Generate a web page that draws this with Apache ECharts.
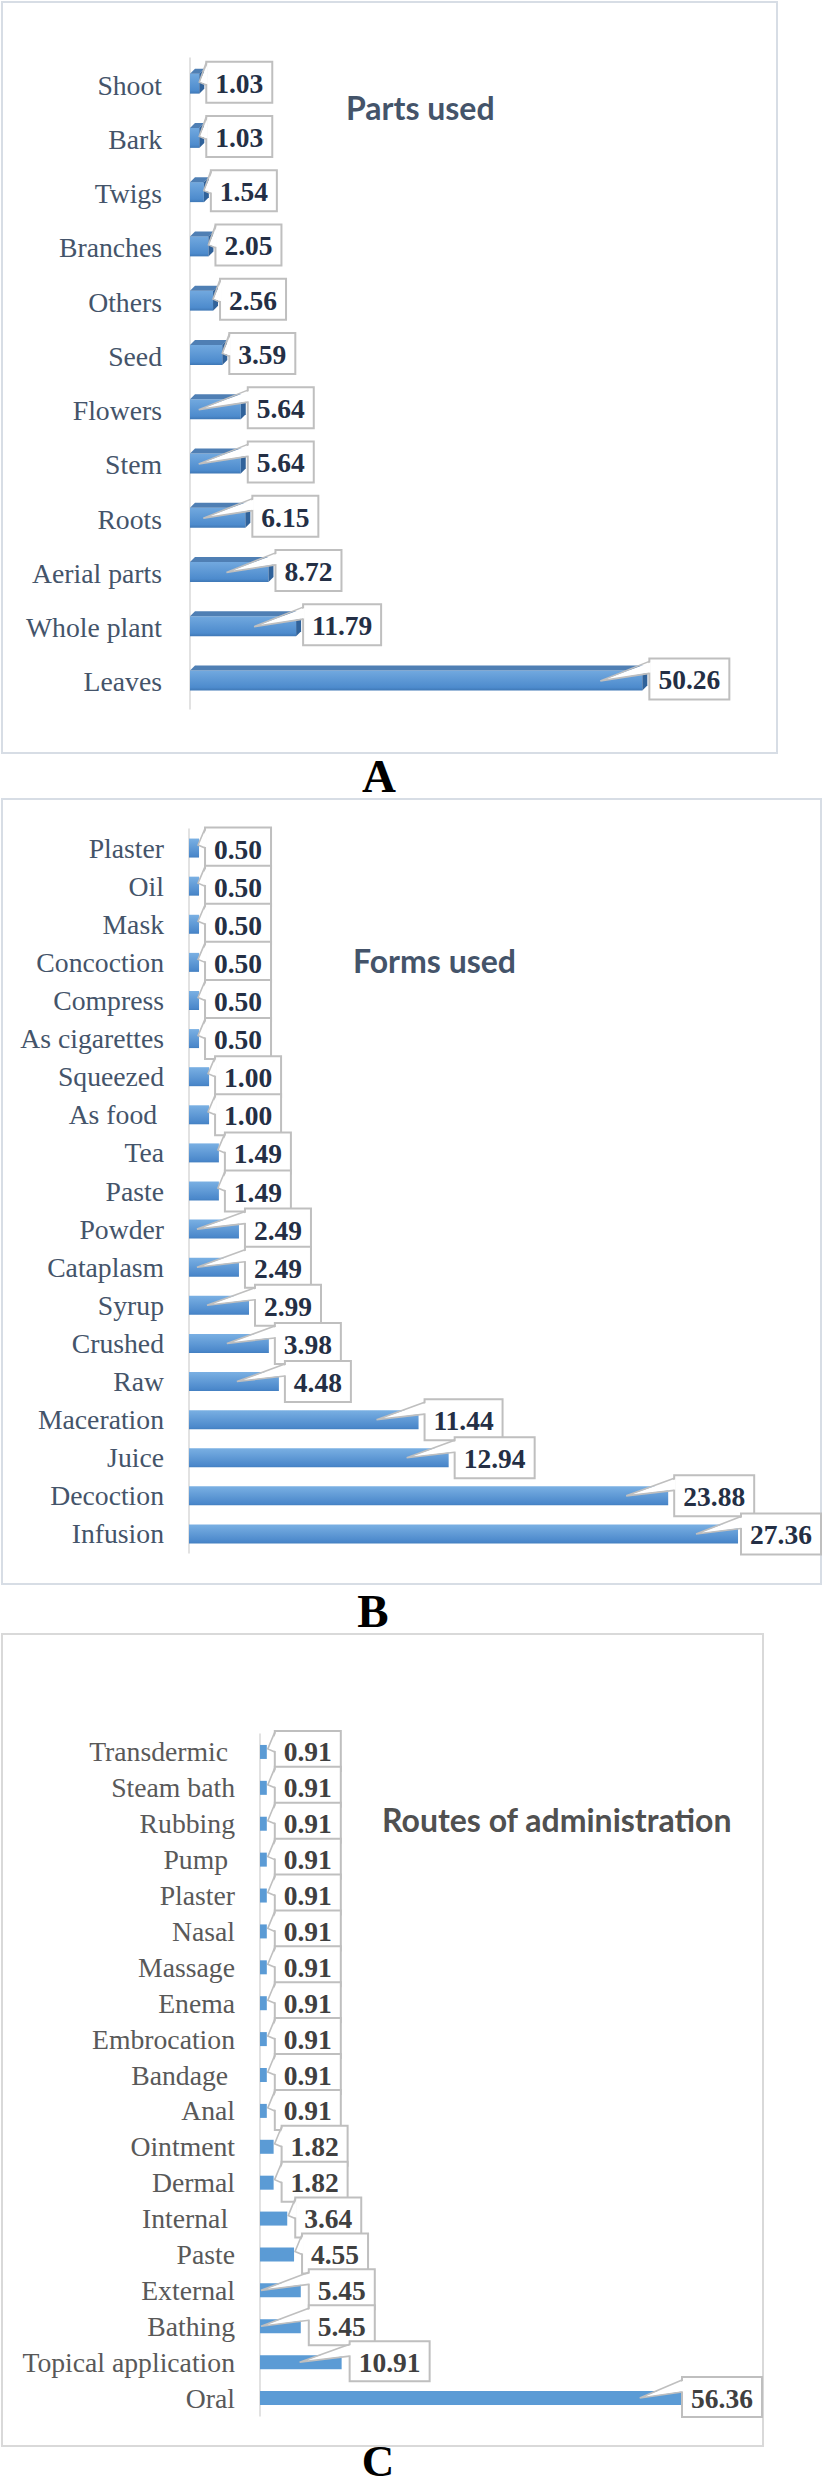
<!DOCTYPE html>
<html><head><meta charset="utf-8">
<script src="https://cdn.jsdelivr.net/npm/echarts@6/dist/echarts.min.js"></script>
<style>html,body{margin:0;padding:0;background:#fff}#c{width:823px;height:2487px}</style>
</head><body><div id="c"></div>
<script>
// ---- data ----
const partsCats = ['Shoot','Bark','Twigs','Branches','Others','Seed','Flowers','Stem','Roots','Aerial parts','Whole plant','Leaves'];
const partsVals = [1.03,1.03,1.54,2.05,2.56,3.59,5.64,5.64,6.15,8.72,11.79,50.26];

const formsCats = ['Plaster','Oil','Mask','Concoction','Compress','As cigarettes','Squeezed','As food ','Tea','Paste','Powder','Cataplasm','Syrup','Crushed','Raw','Maceration','Juice','Decoction','Infusion'];
const formsVals = [0.50,0.50,0.50,0.50,0.50,0.50,1.00,1.00,1.49,1.49,2.49,2.49,2.99,3.98,4.48,11.44,12.94,23.88,27.36];

const routesCats = ['Transdermic ','Steam bath','Rubbing','Pump ','Plaster','Nasal','Massage','Enema','Embrocation','Bandage ','Anal','Ointment','Dermal','Internal ','Paste','External','Bathing','Topical application','Oral'];
const routesVals = [0.91,0.91,0.91,0.91,0.91,0.91,0.91,0.91,0.91,0.91,0.91,1.82,1.82,3.64,4.55,5.45,5.45,10.91,56.36];

const panelTitles = ['Parts used','Forms used','Routes of administration'];
const panelLetters = ['A','B','C'];

// ---- styling helpers ----
const SERIF = '"Liberation Serif","Times New Roman",serif';
const SANS = 'Lato,"Open Sans",sans-serif';
const VALUE_FONT = 'bold 27.5px ' + SERIF;
const mctx = document.createElement('canvas').getContext('2d');
function textW(s, font){ mctx.font = font; return mctx.measureText(s).width; }

function makeRender(cfg){
  return function(params, api){
    const v = api.value(0), ci = api.value(1);
    const p0 = api.coord([0, ci]);
    const p1 = api.coord([v, ci]);
    const x0 = p0[0], x1 = p1[0], cy = p1[1];
    const ch = [];
    const ht = cfg.thick;
    const ft = cy - ht/2 + cfg.barOff, fb = ft + ht;
    ch.push({type:'rect', shape:{x:x0, y:ft, width:x1-x0, height:ht}, style:{fill:cfg.fill}, z2:1});
    const d = cfg.depth || 0;
    if (d){
      ch.push({type:'polygon', shape:{points:[[x0,ft],[x0+d,ft-d],[x1+d,ft-d],[x1,ft]]}, style:{fill:cfg.topFill}, z2:1});
      ch.push({type:'polygon', shape:{points:[[x1,ft],[x1+d,ft-d],[x1+d,fb-d],[x1,fb]]}, style:{fill:cfg.sideFill}, z2:1});
    }
    const txt = v.toFixed(2);
    const w = Math.round(textW(txt, VALUE_FONT) + 18);
    const h = cfg.boxH;
    let bx = x1 + d + cfg.gap;
    if (bx + w > cfg.limit) bx = cfg.limit - w;
    const bt = cy - h/2 + cfg.boxOff;
    let tail;
    if (x1 - x0 >= 40){
      const tip = Math.max(x0 + 1, x1 - 42);
      tail = [[bx, bt+3],[tip, cy + cfg.tipOff],[bx, bt+15]];
    } else {
      tail = [[bx, bt+1],[bx-7, cy-3],[bx, cy]];
    }
    ch.push({type:'rect', shape:{x:bx, y:bt, width:w, height:h}, style:{fill:'#fff', stroke:'#bfbfbf', lineWidth:2}, z2:3});
    const fillPts = [[bx+1.5, tail[0][1]+0.8], tail[1], [bx+1.5, tail[2][1]-0.8]];
    ch.push({type:'polygon', shape:{points:fillPts}, style:{fill:'#fff'}, z2:4});
    ch.push({type:'polyline', shape:{points:tail}, style:{stroke:'#bfbfbf', lineWidth:1.6, fill:null}, z2:5});
    ch.push({type:'text', style:{text:txt, x:bx+w/2, y:bt+h/2+1, align:'center', verticalAlign:'middle', font:VALUE_FONT, fill:cfg.textColor}, z2:6});
    return {type:'group', children:ch};
  };
}

function yAx(idx, cats, offset, margin, color){
  return {gridIndex:idx, type:'category', data:cats, inverse:true, offset:offset,
    axisTick:{show:false}, splitLine:{show:false},
    axisLine:{show:true, lineStyle:{color:'#d9d9d9', width:1.5}},
    axisLabel:{interval:0, margin:margin, fontSize:27.7, fontFamily:SERIF, color:color}};
}

const chart = echarts.init(document.getElementById('c'), null, {renderer:'svg', width:823, height:2487});

const option = {
  animation:false,
  backgroundColor:'#ffffff',
  grid:[
    {left:190, top:58, width:540, height:651},
    {left:189, top:829, width:602, height:724},
    {left:260, top:1734, width:449, height:682}
  ],
  xAxis:[
    {gridIndex:0, type:'value', min:0, max:60, show:false},
    {gridIndex:1, type:'value', min:0, max:30, show:false},
    {gridIndex:2, type:'value', min:0, max:60, show:false}
  ],
  yAxis:[
    yAx(0, partsCats, 5, 23, '#44546a'),
    yAx(1, formsCats, 1.5, 23.5, '#44546a'),
    yAx(2, routesCats, 1, 24, '#595959')
  ],
  series:[
    {type:'custom', xAxisIndex:0, yAxisIndex:0, encode:{x:0, y:1}, clip:false, silent:true,
     data: partsVals.map((v,i)=>[v,i]),
     renderItem: makeRender({thick:20, barOff:-1.5, depth:5,
       fill:{type:'linear', x:0, y:0, x2:0, y2:1, colorStops:[{offset:0,color:'#72a9df'},{offset:0.85,color:'#4d8bcd'},{offset:1,color:'#3f78b6'}]},
       topFill:'#4f7fb4', sideFill:'#30629a', gap:2, limit:773, boxH:41, boxOff:-3, tipOff:-1, textColor:'#242f45'})},
    {type:'custom', xAxisIndex:1, yAxisIndex:1, encode:{x:0, y:1}, clip:false, silent:true,
     data: formsVals.map((v,i)=>[v,i]),
     renderItem: makeRender({thick:19, barOff:0, depth:0,
       fill:{type:'linear', x:0, y:0, x2:0, y2:1, colorStops:[{offset:0,color:'#7ab0e3'},{offset:0.9,color:'#4b88cb'},{offset:1,color:'#437fc0'}]},
       gap:6, limit:821, boxH:41, boxOff:0, tipOff:0, textColor:'#242f45'})},
    {type:'custom', xAxisIndex:2, yAxisIndex:2, encode:{x:0, y:1}, clip:false, silent:true,
     data: routesVals.map((v,i)=>[v,i]),
     renderItem: makeRender({thick:14, barOff:0, depth:0, fill:'#5b9bd5',
       gap:8, limit:762, boxH:40, boxOff:-1, tipOff:0, textColor:'#404040'})}
  ],
  graphic:[
    {type:'rect', silent:true, z:-1, shape:{x:2, y:2, width:775, height:751}, style:{fill:'#fff', stroke:'#d7dde5', lineWidth:2}},
    {type:'rect', silent:true, z:-1, shape:{x:2, y:799, width:819, height:785}, style:{fill:'#fff', stroke:'#d7dde5', lineWidth:2}},
    {type:'rect', silent:true, z:-1, shape:{x:2, y:1634, width:761, height:812}, style:{fill:'#fff', stroke:'#d9d9d9', lineWidth:2}},
    {type:'text', silent:true, style:{text:panelTitles[0], x:346, y:107, font:'bold 32px '+SANS, fill:'#44546a', align:'left', verticalAlign:'middle'}},
    {type:'text', silent:true, style:{text:panelTitles[1], x:353, y:960, font:'bold 32px '+SANS, fill:'#44546a', align:'left', verticalAlign:'middle'}},
    {type:'text', silent:true, style:{text:panelTitles[2], x:382, y:1819, font:'bold 32px '+SANS, fill:'#505050', align:'left', verticalAlign:'middle'}},
    {type:'text', silent:true, style:{text:panelLetters[0], x:379, y:776, font:'bold 47px '+SERIF, fill:'#000', align:'center', verticalAlign:'middle'}},
    {type:'text', silent:true, style:{text:panelLetters[1], x:373, y:1611, font:'bold 47px '+SERIF, fill:'#000', align:'center', verticalAlign:'middle'}},
    {type:'text', silent:true, style:{text:panelLetters[2], x:378, y:2461, font:'bold 45px '+SERIF, fill:'#000', align:'center', verticalAlign:'middle'}}
  ]
};
chart.setOption(option);
</script>
</body></html>
